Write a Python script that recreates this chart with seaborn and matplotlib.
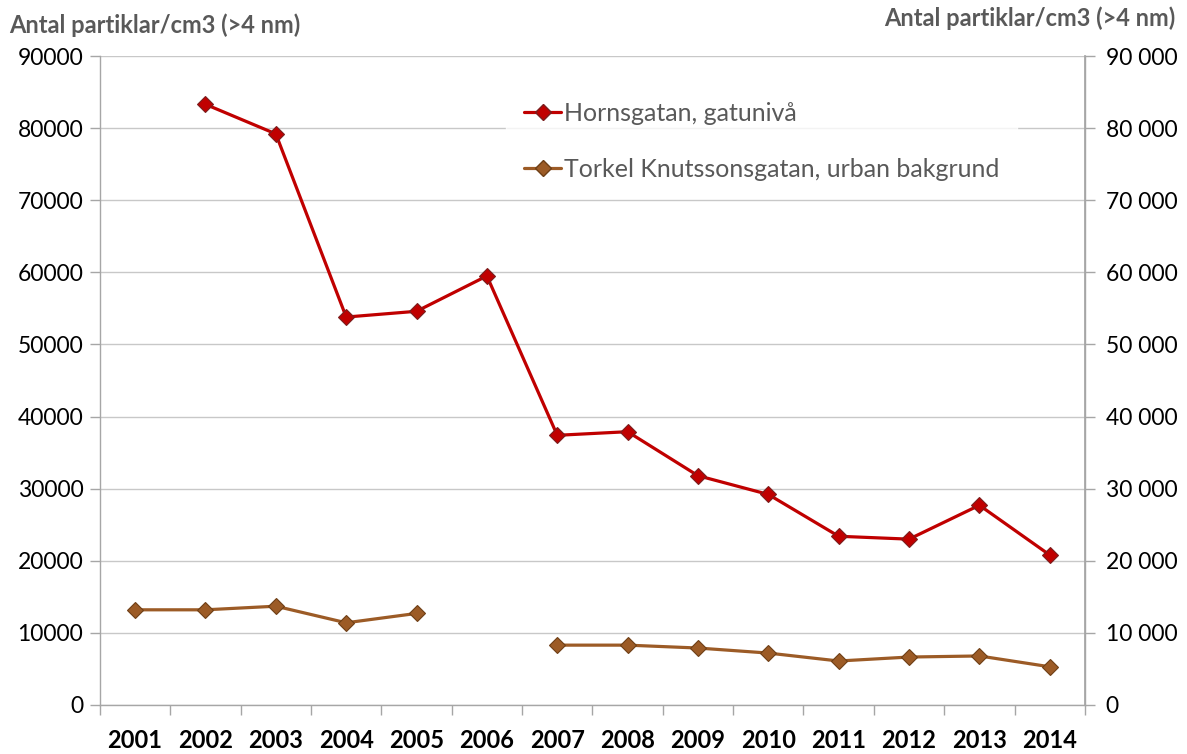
import numpy as np
import pandas as pd
import matplotlib.pyplot as plt
import seaborn as sns
from matplotlib.lines import Line2D
from matplotlib.ticker import FuncFormatter, MultipleLocator, FixedLocator

# datos
years = [2001, 2002, 2003, 2004, 2005, 2006, 2007, 2008, 2009, 2010, 2011, 2012, 2013, 2014]
hornsgatan = [np.nan, 83300, 79200, 53800, 54600, 59500, 37400, 37900, 31800, 29200, 23400, 23000, 27700, 20800]
torkel = [13200, 13200, 13700, 11400, 12700, np.nan, 8300, 8300, 7900, 7200, 6100, 6650, 6800, 5300]

label_horn = "Hornsgatan, gatunivå"
label_tork = "Torkel Knutssonsgatan, urban bakgrund"
axis_title = "Antal partiklar/cm3 (>4 nm)"

red = "#C00000"
red_edge = "#7A1E1E"
brown = "#9C5B26"
brown_edge = "#6E3F16"
grey_txt = "#595959"

sns.set_theme(style="white")
plt.rcParams['font.family'] = ['Lato', 'DejaVu Sans']

df = pd.DataFrame({'pos': np.arange(len(years)), 'horn': hornsgatan, 'tork': torkel})
# segmento para cortar la linea donde falta el dato
df['seg_h'] = df['horn'].isna().cumsum()
df['seg_t'] = df['tork'].isna().cumsum()

fig = plt.figure(figsize=(11.87, 7.54), dpi=100)
ax = fig.add_axes([0.0842, 0.065, 0.8298, 0.8607])

sns.lineplot(data=df.dropna(subset=['horn']), x='pos', y='horn', units='seg_h', estimator=None,
             color=red, lw=2.3, marker='D', markersize=8, markerfacecolor=red,
             markeredgecolor=red_edge, markeredgewidth=0.8, ax=ax, zorder=3)
sns.lineplot(data=df.dropna(subset=['tork']), x='pos', y='tork', units='seg_t', estimator=None,
             color=brown, lw=2.3, marker='D', markersize=8, markerfacecolor=brown,
             markeredgecolor=brown_edge, markeredgewidth=0.8, ax=ax, zorder=3)

ax.set_xlim(-0.5, len(years) - 0.5)
ax.set_ylim(0, 90000)
ax.yaxis.set_major_locator(MultipleLocator(10000))
ax.grid(axis='y', color='#C8C8C8', lw=1)
ax.grid(axis='x', visible=False)
ax.set_axisbelow(True)

# etiquetas de años en el centro, marcas entre categorias
ax.xaxis.set_major_locator(FixedLocator(np.arange(len(years))))
ax.set_xticklabels([str(y) for y in years], fontsize=17, fontweight='bold', color='black')
ax.xaxis.set_minor_locator(FixedLocator(np.arange(-0.5, len(years), 1.0)))
ax.tick_params(axis='x', which='major', length=0, pad=17)
ax.tick_params(axis='x', which='minor', length=7, width=1, color='#A6A6A6', direction='out', bottom=True)
ax.tick_params(axis='y', length=7, width=1, color='#A6A6A6', direction='out', left=True, labelsize=16.5, labelcolor='black', pad=5)
ax.yaxis.set_major_formatter(FuncFormatter(lambda v, p: f"{int(v)}"))
ax.set_xlabel("")
ax.set_ylabel("")

for s in ['top']:
    ax.spines[s].set_visible(False)
for s in ['left', 'right', 'bottom']:
    ax.spines[s].set_color('#A6A6A6')
    ax.spines[s].set_linewidth(1)

ax2 = ax.twinx()
ax2.set_ylim(0, 90000)
ax2.yaxis.set_major_locator(MultipleLocator(10000))
ax2.yaxis.set_major_formatter(FuncFormatter(lambda v, p: f"{int(v):,}".replace(",", " ")))
ax2.tick_params(axis='y', length=7, width=1, color='#A6A6A6', direction='out', right=True, labelsize=16.5, labelcolor='black', pad=8)
ax2.grid(False)
for s in ['top', 'left', 'bottom']:
    ax2.spines[s].set_visible(False)
ax2.spines['right'].set_color('#A6A6A6')

fig.text(0.008, 0.966, axis_title, fontsize=17, fontweight='bold', color=grey_txt, ha='left', va='center')
fig.text(0.99, 0.976, axis_title, fontsize=17, fontweight='bold', color=grey_txt, ha='right', va='center')

handles = [
    Line2D([0], [0], color=red, lw=2.3, marker='D', markersize=8, markerfacecolor=red, markeredgecolor=red_edge),
    Line2D([0], [0], color=brown, lw=2.3, marker='D', markersize=8, markerfacecolor=brown, markeredgecolor=brown_edge),
]
leg = ax.legend(handles, [label_horn, label_tork], loc='upper left', bbox_to_anchor=(0.40, 0.975),
                frameon=True, fontsize=18, labelcolor=grey_txt, handlelength=1.5, handletextpad=0.1,
                labelspacing=1.3, borderpad=0.7, fancybox=False)
leg.get_frame().set_facecolor('white')
leg.get_frame().set_edgecolor('white')
leg.set_zorder(5)

plt.savefig('out.png', dpi=100)
